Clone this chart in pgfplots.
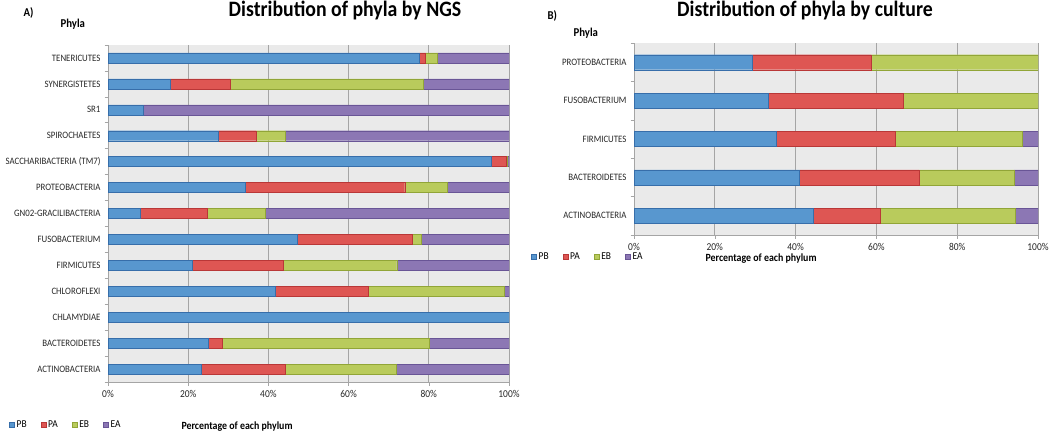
\documentclass[border=0pt]{standalone}
\usepackage{fontspec}
\setmainfont{Carlito}[FakeStretch=0.9]
\usepackage{pgfplots}
\usepackage{pgfplotstable}
\pgfplotsset{compat=1.18}

\definecolor{cPB}{RGB}{88,151,207}
\definecolor{cPA}{RGB}{222,86,83}
\definecolor{cEB}{RGB}{185,203,92}
\definecolor{cEA}{RGB}{140,119,180}
\definecolor{ePB}{RGB}{55,110,170}
\definecolor{ePA}{RGB}{185,55,55}
\definecolor{eEB}{RGB}{145,165,55}
\definecolor{eEA}{RGB}{105,85,150}
\definecolor{plotbg}{RGB}{234,234,234}
\definecolor{gridc}{RGB}{165,165,165}

% y  PB  PA  EB  EA   (rows from bottom to top)
\pgfplotstableread{
y  PB    PA    EB    EA
1  23.3  21.0  27.5  28.2
2  24.9  3.6   51.5  20.0
3  100   0     0     0
4  41.8  23.0  34.1  1.1
5  20.9  22.7  28.4  28.0
6  47.2  28.6  2.3   21.9
7  8.1   16.7  14.4  60.8
8  34.2  39.8  10.5  15.5
9  95.6  3.6   0.4   0.4
10 27.5  9.4   7.2   55.9
11 8.8   0     0     91.2
12 15.5  14.9  48.2  21.4
13 77.6  1.6   2.8   18.0
}\ngsdata

\pgfplotstableread{
y  PB    PA    EB    EA
1  44.3  16.7  33.4  5.6
2  41.0  29.5  23.6  5.9
3  35.1  29.6  31.3  4.0
4  33.2  33.4  33.4  0
5  29.3  29.4  41.3  0
}\culdata

\pgfplotsset{
  phylaaxis/.style={
    xbar stacked,
    scale only axis,
    xmin=0, xmax=100,
    xtick={0,20,...,100},
    xticklabel={\pgfmathprintnumber{\tick}\%},
    /pgf/number format/assume math mode=true,
    major tick length=0pt,
    minor tick length=3.5pt,
    tick align=outside,
    minor xtick={0,20,...,100},
    tick style={gridc, line width=0.6pt},
    axis lines*=left,
    axis line style={gridc, line width=0.6pt},
    axis background/.style={fill=plotbg},
    xmajorgrids,
    major grid style={gridc, line width=0.9pt},
    ticklabel style={text=black!85},
    xticklabel style={font=\fontsize{10.5}{12}\selectfont, yshift=-5pt},
    yticklabel style={font=\fontsize{9.8}{12}\selectfont, xshift=-4pt},
    legend columns=4,
    legend style={draw=none, fill=none, font=\fontsize{10.5}{12}\selectfont,
      /tikz/every even column/.append style={column sep=12pt}, anchor=west},
    legend image code/.code={\draw[##1, line width=0.5pt] (0pt,-2.5pt) rectangle (5pt,2.5pt);},
  },
  sPB/.style={fill=cPB, draw=ePB},
  sPA/.style={fill=cPA, draw=ePA},
  sEB/.style={fill=cEB, draw=eEB},
  sEA/.style={fill=cEA, draw=eEA},
}

\begin{document}
\begin{tikzpicture}
\useasboundingbox (0,0) rectangle (1050pt,-434pt);

% ---- A) NGS ----
\begin{axis}[phylaaxis,
  at={(108pt,-382pt)}, anchor=south west,
  width=401pt, height=337pt,
  bar width=10pt,
  ymin=0.5, ymax=13.5,
  ytick={1,...,13},
  minor ytick={0.5,1.5,...,13.5},
  yticklabels={ACTINOBACTERIA,BACTEROIDETES,CHLAMYDIAE,CHLOROFLEXI,FIRMICUTES,FUSOBACTERIUM,GN02-GRACILIBACTERIA,PROTEOBACTERIA,SACCHARIBACTERIA (TM7),SPIROCHAETES,SR1,SYNERGISTETES,TENERICUTES},
  legend style={at={(-102pt,-43pt)}},
]
\addplot[sPB] table[x=PB, y=y] {\ngsdata};
\addplot[sPA] table[x=PA, y=y] {\ngsdata};
\addplot[sEB] table[x=EB, y=y] {\ngsdata};
\addplot[sEA] table[x=EA, y=y] {\ngsdata};
\legend{PB,PA,EB,EA}
\end{axis}

% ---- B) culture ----
\begin{axis}[phylaaxis,
  at={(634pt,-235pt)}, anchor=south west,
  width=404pt, height=192pt,
  bar width=15pt,
  ymin=0.5, ymax=5.5,
  ytick={1,...,5},
  minor ytick={0.5,1.5,...,5.5},
  yticklabels={ACTINOBACTERIA,BACTEROIDETES,FIRMICUTES,FUSOBACTERIUM,PROTEOBACTERIA},
  legend style={at={(-106pt,-22pt)}},
]
\addplot[sPB] table[x=PB, y=y] {\culdata};
\addplot[sPA] table[x=PA, y=y] {\culdata};
\addplot[sEB] table[x=EB, y=y] {\culdata};
\addplot[sEA] table[x=EA, y=y] {\culdata};
\legend{PB,PA,EB,EA}
\end{axis}

% titles and labels
\node[font=\bfseries\fontsize{22}{26}\selectfont] at (345pt,-10pt) {Distribution of phyla by NGS};
\node[font=\bfseries\fontsize{22}{26}\selectfont] at (805pt,-10pt) {Distribution of phyla by culture};
\node[font=\bfseries\fontsize{12}{14}\selectfont, anchor=west] at (20pt,-13pt) {A)};
\node[font=\bfseries\fontsize{12}{14}\selectfont, anchor=west] at (544pt,-16pt) {B)};
\node[font=\bfseries\fontsize{12}{14}\selectfont, anchor=west] at (57pt,-24pt) {Phyla};
\node[font=\bfseries\fontsize{12}{14}\selectfont, anchor=west] at (570pt,-33pt) {Phyla};
\node[font=\bfseries\fontsize{11}{13}\selectfont, anchor=west] at (178pt,-427pt) {Percentage of each phylum};
\node[font=\bfseries\fontsize{11}{13}\selectfont, anchor=west] at (702pt,-259pt) {Percentage of each phylum};
\end{tikzpicture}
\end{document}
